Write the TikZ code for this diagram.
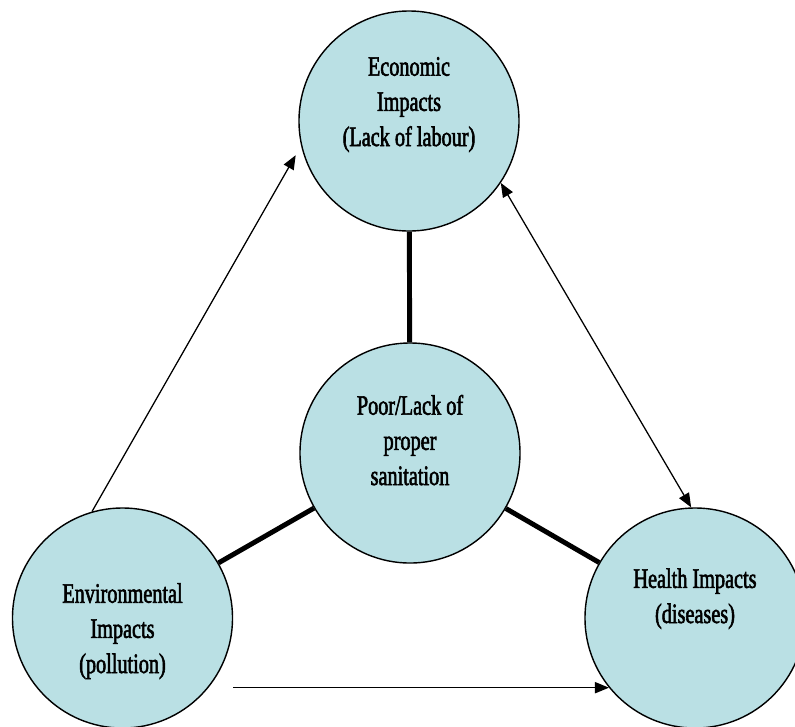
\documentclass[tikz,border=0pt]{standalone}
\usepackage{fontspec}
\setmainfont{Liberation Serif}[FakeStretch=0.72,FakeBold=2]
\usetikzlibrary{shapes,arrows.meta,positioning,calc}
\usepackage{xcolor}
\definecolor{sanitblue}{RGB}{186,224,228}

\begin{document}
\begin{tikzpicture}[x=0.025cm, y=-0.025cm,
    bubble/.style={circle, draw, line width=1pt, fill=sanitblue, minimum size=5.5cm, inner sep=0pt,
        align=center, font=\fontsize{20}{25}\selectfont, text depth=0pt},
    link/.style={line width=3.5pt},
    arr/.style={line width=0.9pt, -{Triangle[length=10pt,width=8pt]}},
    darr/.style={line width=0.9pt, {Triangle[length=10pt,width=8pt]}-{Triangle[length=10pt,width=8pt]}}]
    \useasboundingbox (0,0) rectangle (795,726);
    \node [bubble, text height=1.25cm] (eco) at (409,121) {Economic\\Impacts\\(Lack of labour)};
    \node [bubble, text height=1.6cm] (san) at (410,453) {Poor/Lack of\\proper\\sanitation};
    \node [bubble, text height=2.75cm] (env) at (122.5,618) {Environmental\\Impacts\\(pollution)};
    \node [bubble, text height=0.25cm] (hea) at (695,618) {Health Impacts\\(diseases)};
    \draw[link] (san) -- (eco);
    \draw[link] (san) -- (env);
    \draw[link] (san) -- (hea);
    \draw[arr] (env.106) -- ([xshift=-0.2cm]eco.198);
    \draw[darr] (eco.-34) -- (hea.92);
    \draw[arr] (env.east |- hea.219) -- (hea.219);
\end{tikzpicture}
\end{document}
